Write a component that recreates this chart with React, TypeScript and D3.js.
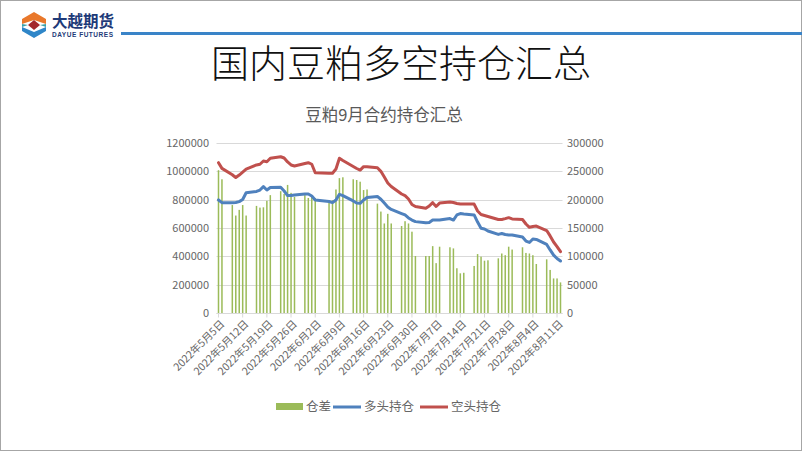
import React from "react";
import * as d3 from "d3";

const dates = ["2022-05-05","2022-05-06","2022-05-09","2022-05-10","2022-05-11","2022-05-12","2022-05-13","2022-05-16","2022-05-17","2022-05-18","2022-05-19","2022-05-20","2022-05-23","2022-05-24","2022-05-25","2022-05-26","2022-05-27","2022-05-30","2022-05-31","2022-06-01","2022-06-02","2022-06-06","2022-06-07","2022-06-08","2022-06-09","2022-06-10","2022-06-13","2022-06-14","2022-06-15","2022-06-16","2022-06-17","2022-06-20","2022-06-21","2022-06-22","2022-06-23","2022-06-24","2022-06-27","2022-06-28","2022-06-29","2022-06-30","2022-07-01","2022-07-04","2022-07-05","2022-07-06","2022-07-07","2022-07-08","2022-07-11","2022-07-12","2022-07-13","2022-07-14","2022-07-15","2022-07-18","2022-07-19","2022-07-20","2022-07-21","2022-07-22","2022-07-25","2022-07-26","2022-07-27","2022-07-28","2022-07-29","2022-08-01","2022-08-02","2022-08-03","2022-08-04","2022-08-05","2022-08-08","2022-08-09","2022-08-10","2022-08-11","2022-08-12"];

// 空头持仓 (left axis)
const shortPos = [1061000,1021000,976000,956000,974000,995000,1016000,1045000,1050000,1073000,1068000,1092000,1103000,1094000,1066000,1045000,1038000,1055000,1061000,
1050000,990000,986000,986000,1016000,1092000,1076000,1034000,1020000,1009000,1033000,1033000,1025000,1000000,960000,918000,893000,840000,829000,805000,766000,
752000,739000,755000,779000,752000,776000,784000,780000,773000,769000,769000,769000,720000,695000,688000,681000,660000,660000,666000,673000,664000,
660000,628000,605000,611000,614000,582000,544000,501000,469000,433000];

// 多头持仓 (left axis)
const longPos = [798000,779000,779000,780000,786000,801000,849000,858000,868000,892000,868000,886000,887000,861000,829000,829000,833000,840000,840000,
826000,798000,787000,779000,798000,838000,829000,791000,776000,774000,798000,815000,822000,803000,776000,748000,731000,702000,692000,671000,656000,
645000,637000,639000,656000,656000,656000,667000,656000,692000,702000,699000,692000,642000,598000,593000,579000,555000,561000,554000,551000,551000,
536000,508000,498000,522000,519000,484000,445000,409000,385000,367000];

// 仓差 (right axis)
const netPos = [252000,236000,190500,172000,182000,190500,172000,189000,186000,186500,198000,208000,215000,210000,226000,212000,205000,208000,203000,
205000,203000,197000,199000,218000,238000,239500,236000,234700,231700,217000,218000,193000,179000,158000,175000,158000,153500,162000,158000,143500,
100600,100600,100600,118000,88000,117000,116000,114000,79000,70000,71000,83000,104000,99400,92300,93000,96500,105000,102000,117000,112000,
116000,106000,105000,102000,86500,94700,76000,61000,61000,54000];

const tickDates = ["2022-05-05","2022-05-12","2022-05-19","2022-05-26","2022-06-02","2022-06-09","2022-06-16","2022-06-23","2022-06-30","2022-07-07","2022-07-14","2022-07-21","2022-07-28","2022-08-04","2022-08-11"];
const leftTicks = [0,200000,400000,600000,800000,1000000,1200000];
const rightTicks = [0,50000,100000,150000,200000,250000,300000];
const legendLabels = ["仓差","多头持仓","空头持仓"];

const COLORS = { net: "#9BBB59", long: "#4F81BD", short: "#C0504D" };
const FONT = '"Noto Sans CJK SC", "Noto Sans", sans-serif';

export default function App() {
  const parse = d3.utcParse("%Y-%m-%d");
  const pd = dates.map((d) => parse(d) as Date);
  const x = d3.scaleUtc().domain([pd[0], pd[pd.length - 1]]).range([218.5, 560.5]);
  const yL = d3.scaleLinear().domain([0, 1200000]).range([313, 143]);
  const yR = d3.scaleLinear().domain([0, 300000]).range([313, 143]);
  const plotL = 216.5, plotR = 562.5;

  const lineGen = (vals: number[]) =>
    d3.line<number>().x((_, i) => x(pd[i])).y((v) => yL(v))(vals) || "";

  const fmtLabel = (s: string) => {
    const d = parse(s) as Date;
    return `${d.getUTCFullYear()}年${d.getUTCMonth() + 1}月${d.getUTCDate()}日`;
  };

  return (
    <svg width={802} height={451} style={{ position: "absolute", left: 0, top: 0, background: "#fff" }} fontFamily={FONT}>
      <rect x={0.5} y={0.5} width={801} height={450} fill="#fff" stroke="#a6a6a6" />
      {/* logo */}
      <g>
        <polygon points="34,12 46,19 46,24 34,20 22,24 22,19" fill="#E9782B" />
        <polygon points="22,24 28,25 22,27" fill="#3AA1A8" />
        <polygon points="46,24 40,25 46,27" fill="#3AA1A8" />
        <polygon points="34,20 40,25 34,30 28,25" fill="#A3282B" />
        <polygon points="22,27 34,32 46,27 46,31 34,38 22,31" fill="#2F86C8" />
      </g>
      <text x={52} y={27} fontSize={15.5} fontWeight={700} fill="#1E3A78">大越期货</text>
      <text x={52} y={37} fontSize={6.5} fontWeight={700} fill="#1E3A78" textLength={61} lengthAdjust="spacing" fontFamily="Liberation Sans, sans-serif">DAYUE FUTURES</text>
      <rect x={121} y={32} width={681} height={3} fill="#3A84C8" />

      <text x={401} y={77} fontSize={38} fontWeight={300} textAnchor="middle" fill="#111">国内豆粕多空持仓汇总</text>
      <text x={384} y={121} fontSize={16.5} textAnchor="middle" fill="#595959">豆粕9月合约持仓汇总</text>

      {/* gridlines */}
      {leftTicks.map((t) => (
        <line key={"g" + t} x1={plotL} x2={plotR} y1={Math.round(yL(t)) + 0.5} y2={Math.round(yL(t)) + 0.5} stroke="#D9D9D9" />
      ))}
      {leftTicks.map((t) => (
        <text key={"l" + t} x={209} y={yL(t)} dy="0.35em" fontSize={11} textAnchor="end" fill="#666">{t}</text>
      ))}
      {rightTicks.map((t) => (
        <text key={"r" + t} x={567} y={yR(t)} dy="0.35em" fontSize={11} textAnchor="start" fill="#666">{t}</text>
      ))}

      {/* bars */}
      {netPos.map((v, i) => (
        <rect key={"b" + i} x={x(pd[i]) - 0.75} y={yR(v)} width={1.5} height={yR(0) - yR(v)} fill={COLORS.net} />
      ))}

      {/* x axis */}
      <line x1={plotL} x2={plotR} y1={313.5} y2={313.5} stroke="#D9D9D9" />
      {tickDates.map((t) => {
        const tx = x(parse(t) as Date);
        return (
          <g key={"t" + t}>
            <line x1={tx} x2={tx} y1={313.5} y2={317.5} stroke="#D9D9D9" />
            <text transform={`translate(${tx + 4},${322}) rotate(-45)`} fontSize={10.5} textAnchor="end" dy="0.35em" fill="#666">
              {fmtLabel(t)}
            </text>
          </g>
        );
      })}

      {/* lines */}
      <path d={lineGen(longPos)} fill="none" stroke={COLORS.long} strokeWidth={3} strokeLinejoin="round" strokeLinecap="round" />
      <path d={lineGen(shortPos)} fill="none" stroke={COLORS.short} strokeWidth={3} strokeLinejoin="round" strokeLinecap="round" />

      {/* legend */}
      <rect x={276} y={403} width={27} height={7} fill={COLORS.net} />
      <text x={306} y={407} dy="0.35em" fontSize={12.5} fill="#666">{legendLabels[0]}</text>
      <line x1={333} x2={361} y1={407} y2={407} stroke={COLORS.long} strokeWidth={3} />
      <text x={364} y={407} dy="0.35em" fontSize={12.5} fill="#666">{legendLabels[1]}</text>
      <line x1={420} x2={448} y1={407} y2={407} stroke={COLORS.short} strokeWidth={3} />
      <text x={451} y={407} dy="0.35em" fontSize={12.5} fill="#666">{legendLabels[2]}</text>
    </svg>
  );
}
